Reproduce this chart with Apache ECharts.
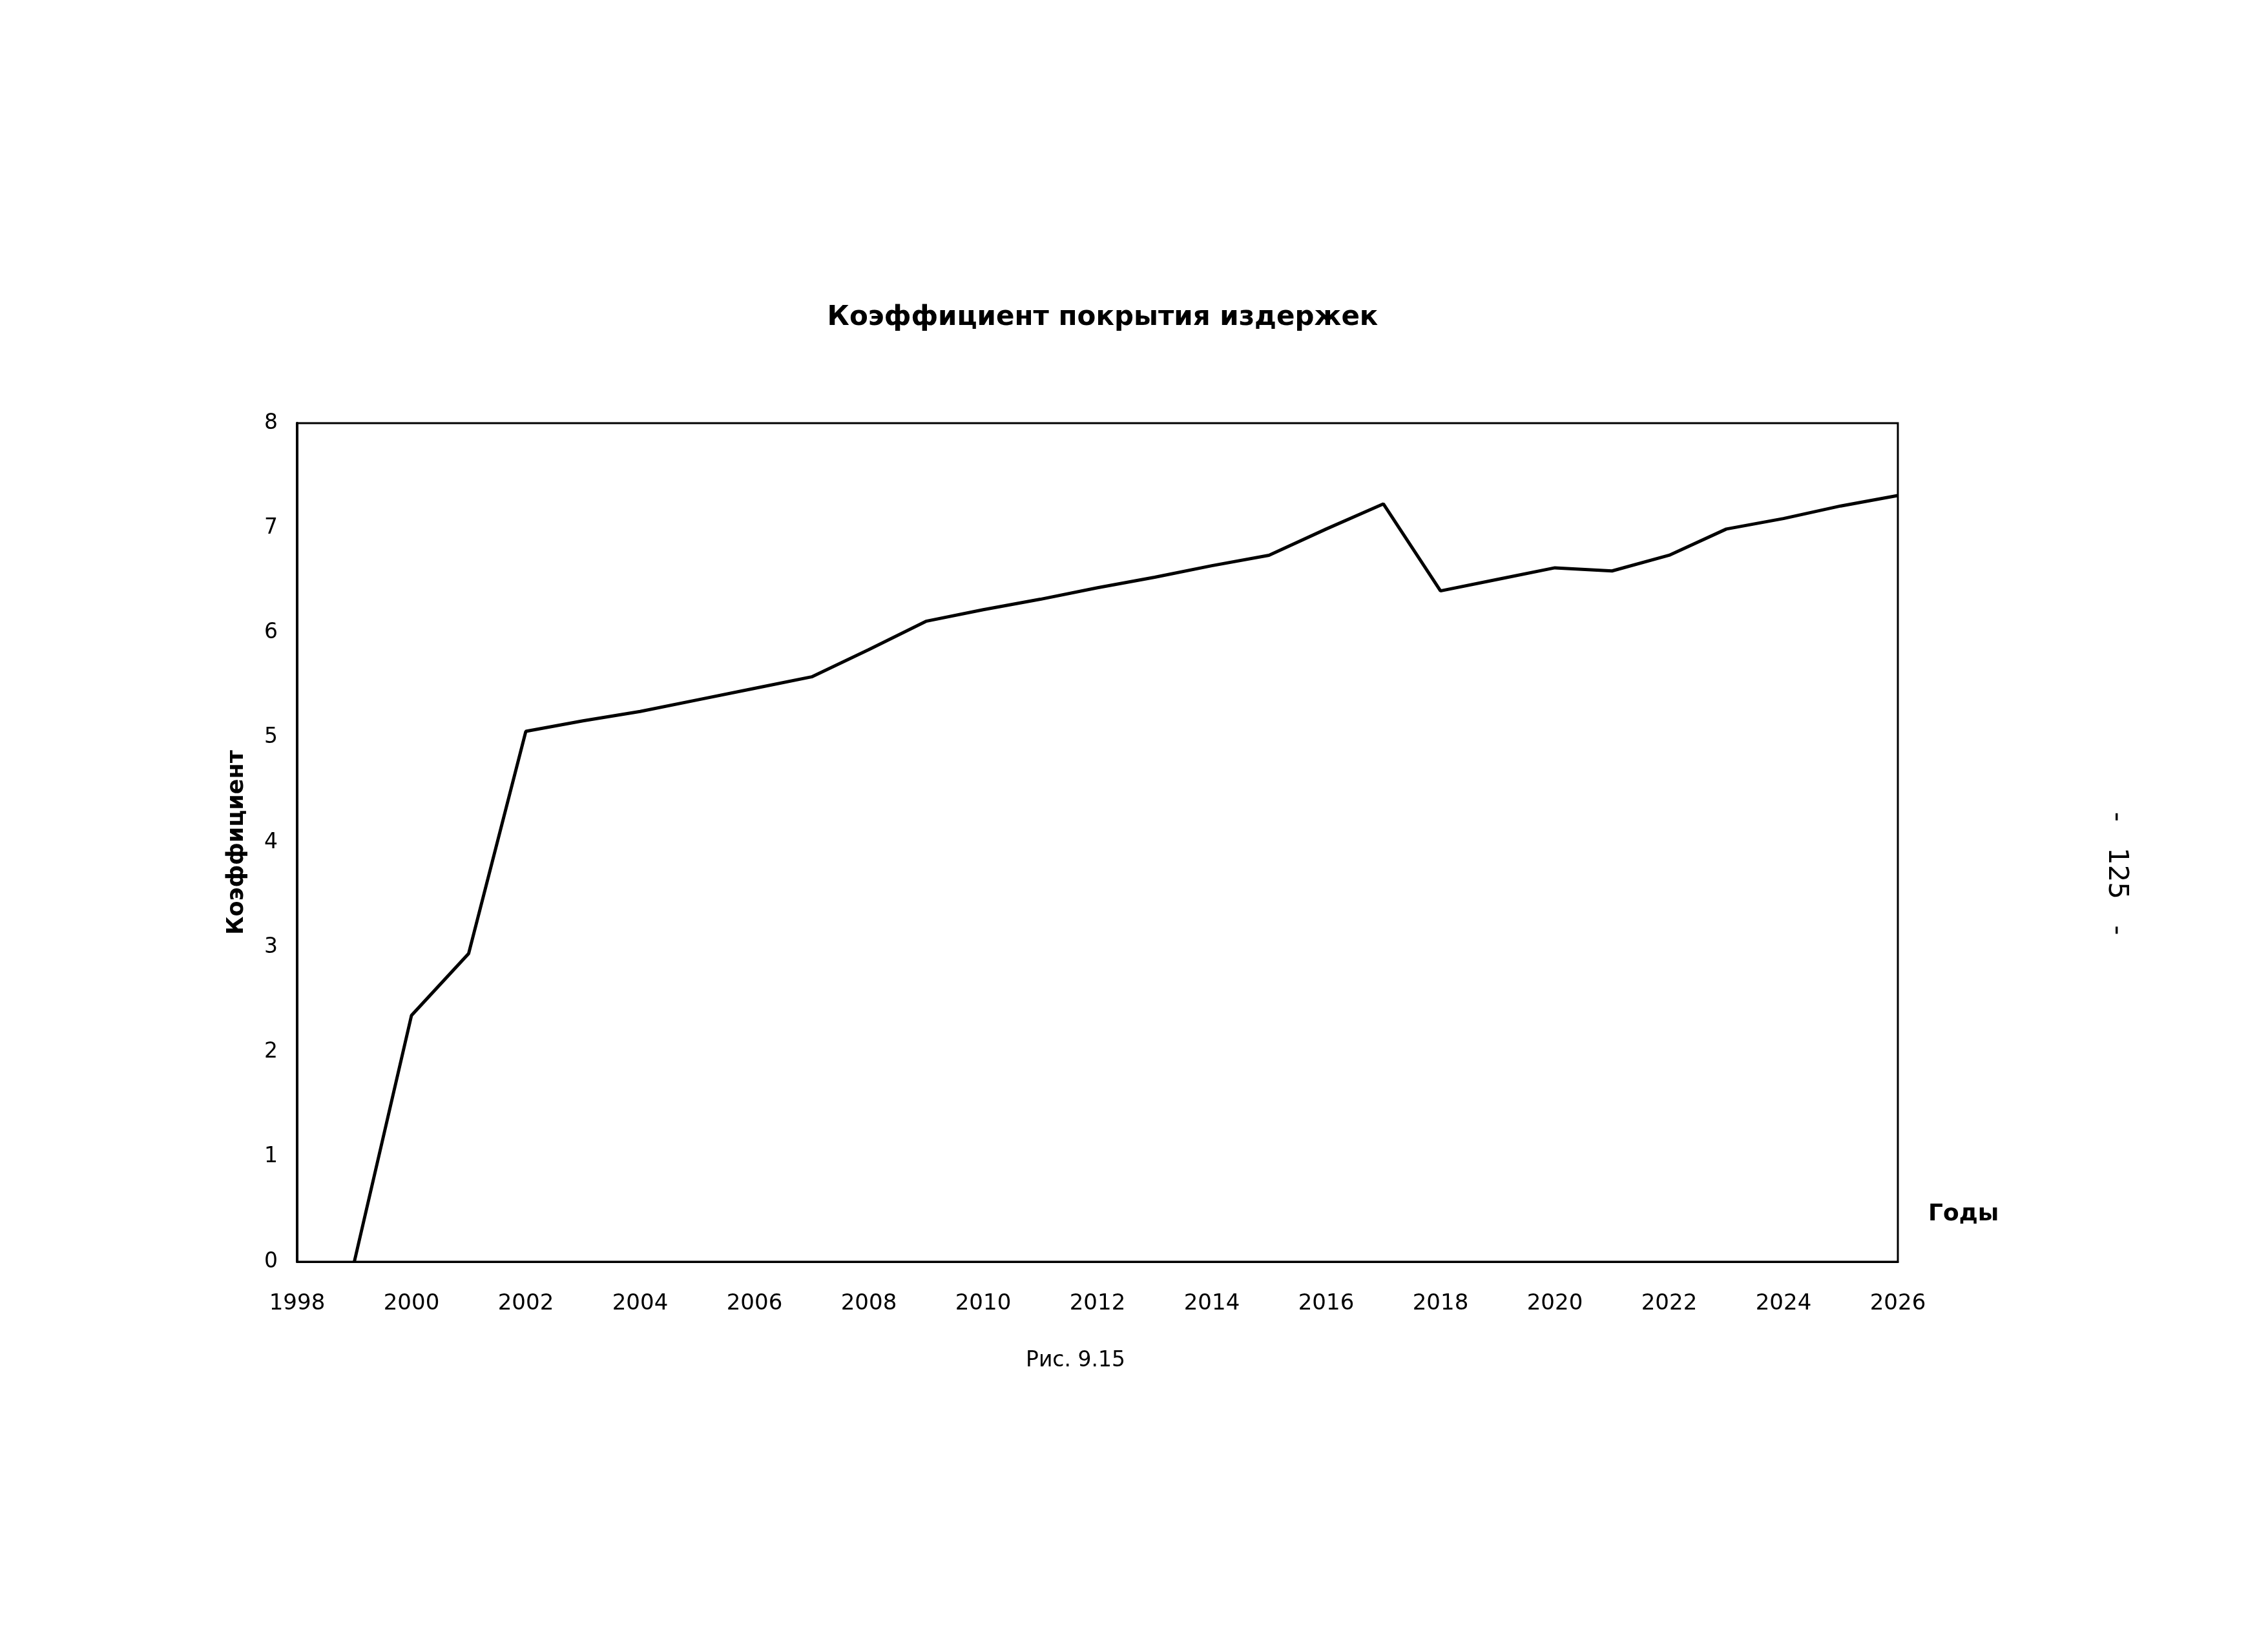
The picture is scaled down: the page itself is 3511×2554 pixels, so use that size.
<!DOCTYPE html>
<html>
<head>
<meta charset="utf-8">
<script src="https://cdn.jsdelivr.net/npm/echarts@6/dist/echarts.min.js"></script>
<style>
html,body{margin:0;padding:0;background:#fff;}
#chart{width:3511px;height:2554px;}
</style>
</head>
<body>
<div id="chart"></div>
<script>
const years = [1999,2000,2001,2002,2003,2004,2005,2006,2007,2008,2009,2010,2011,2012,2013,2014,2015,2016,2017,2018,2019,2020,2021,2022,2023,2024,2025,2026];
const values = [0,2.35,2.94,5.06,5.16,5.25,5.36,5.47,5.58,5.84,6.11,6.22,6.32,6.43,6.53,6.64,6.74,6.99,7.23,6.40,6.51,6.62,6.59,6.74,6.99,7.09,7.21,7.31];
const titleText = 'Коэффициент покрытия издержек';
const yName = 'Коэффициент';
const xName = 'Годы';
const caption = 'Рис. 9.15';
const pageNo = '-   125   -';

const chart = echarts.init(document.getElementById('chart'), null, {renderer:'canvas'});
chart.setOption({
  backgroundColor:'#ffffff',
  animation:false,
  title:{
    text:titleText, left:1702, top:466, textAlign:'center',
    textStyle:{fontFamily:'DejaVu Sans', fontWeight:'bold', fontSize:42, color:'#000'}
  },
  grid:{left:460, right:573, top:655, bottom:601, show:true, borderColor:'#000', borderWidth:3, backgroundColor:'transparent'},
  xAxis:{
    type:'value', min:1998, max:2026, interval:2,
    axisLine:{show:true, lineStyle:{color:'#000', width:3}},
    axisTick:{show:false},
    splitLine:{show:false},
    axisLabel:{color:'#000', fontFamily:'DejaVu Sans', fontSize:34, margin:48, formatter:v=>String(v)}
  },
  yAxis:{
    type:'value', min:0, max:8, interval:1,
    name:yName, nameLocation:'middle', nameGap:76, nameRotate:90,
    nameTextStyle:{fontFamily:'DejaVu Sans', fontWeight:'bold', fontSize:35, color:'#000'},
    axisLine:{show:true, lineStyle:{color:'#000', width:4}},
    axisTick:{show:false},
    splitLine:{show:false},
    axisLabel:{color:'#000', fontFamily:'DejaVu Sans', fontSize:33, margin:30}
  },
  graphic:[
    {type:'text', left:2985, top:1862, style:{text:xName, fontFamily:'DejaVu Sans', fontWeight:'bold', fontSize:36, fill:'#000'}},
    {type:'text', left:1588, top:2090, style:{text:caption, fontFamily:'DejaVu Sans', fontSize:33, fill:'#000'}},
    {type:'text', x:3276, y:1352, rotation:-Math.PI/2, style:{text:pageNo, fontFamily:'DejaVu Sans', fontSize:42, fill:'#000', align:'center', verticalAlign:'middle'}}
  ],
  series:[{
    type:'line',
    data:years.map((y,i)=>[y, values[i]]),
    showSymbol:false,
    lineStyle:{color:'#000', width:5},
    itemStyle:{color:'#000'}
  }]
});
</script>
</body>
</html>
